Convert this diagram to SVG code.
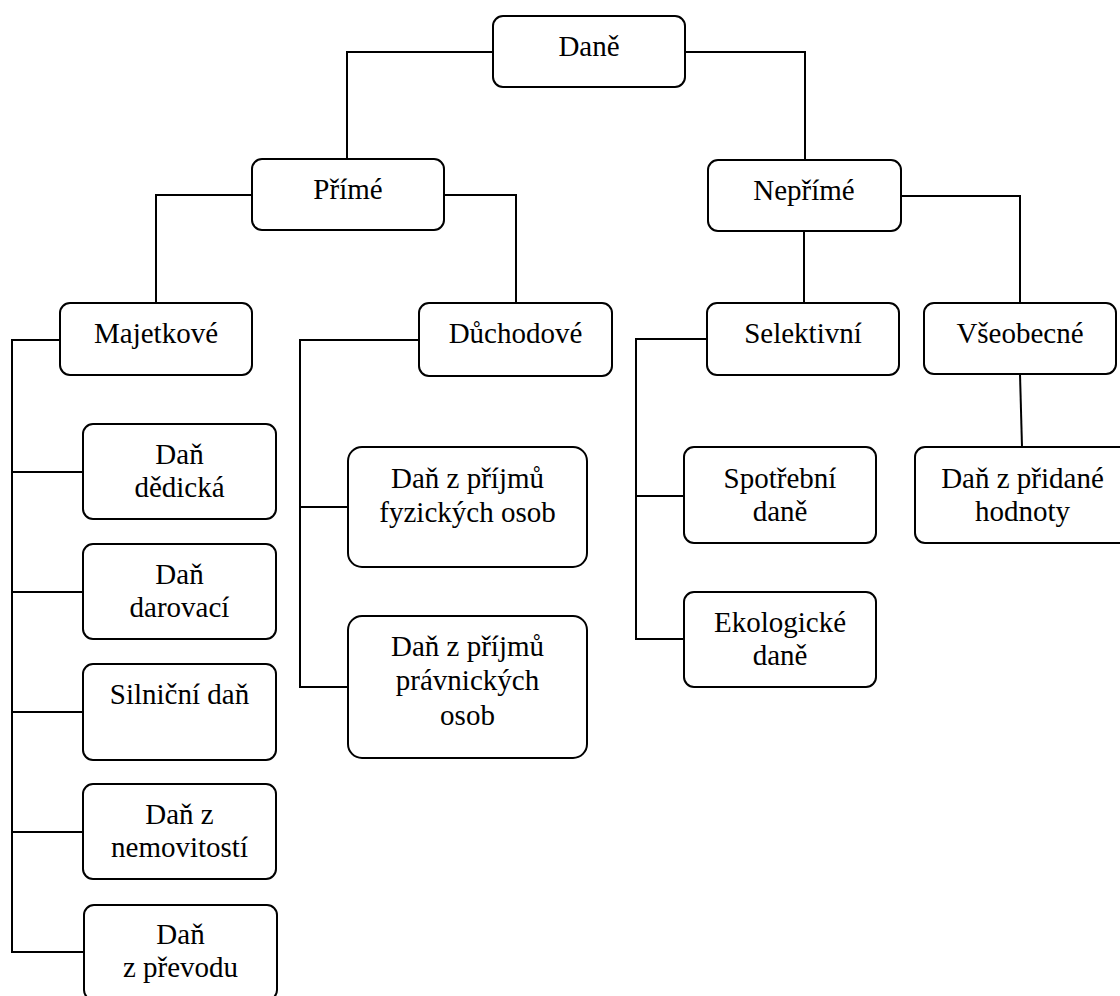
<svg xmlns="http://www.w3.org/2000/svg" width="1120" height="996" viewBox="0 0 1120 996">
<defs>
<style>
.box{fill:#fff;stroke:#000;stroke-width:2}
.t{font-family:'Liberation Serif','Times New Roman',serif;font-size:29px;fill:#000;text-anchor:middle}
</style>
</defs>
<rect width="1120" height="996" fill="#fff"/>
<g id="connectors" fill="none" stroke="#000" stroke-width="2">
<polyline points="493,52 347,52 347,159"/>
<polyline points="685,52 805,52 805,160"/>
<polyline points="252,195 156,195 156,303"/>
<polyline points="444,195 516,195 516,303"/>
<polyline points="804,231 804,303"/>
<polyline points="901,196 1020,196 1020,303"/>
<polyline points="60,340 12,340 12,952 83,952"/>
<line x1="12" y1="472" x2="83" y2="472"/>
<line x1="12" y1="592" x2="83" y2="592"/>
<line x1="12" y1="712" x2="83" y2="712"/>
<line x1="12" y1="832" x2="83" y2="832"/>
<polyline points="419,340 300,340 300,687 348,687"/>
<line x1="300" y1="507" x2="348" y2="507"/>
<polyline points="708,339 636,339 636,639 684,639"/>
<line x1="636" y1="496" x2="684" y2="496"/>
<line x1="1020" y1="374" x2="1022" y2="447"/>
</g>
<g id="dane"><rect class="box" x="493" y="16" width="192" height="71" rx="10"/><text class="t" x="589" y="56" font-family="'Liberation Serif'">Daně</text></g>
<g id="prime"><rect class="box" x="252" y="159" width="192" height="71" rx="10"/><text class="t" x="348" y="199" font-family="'Liberation Serif'">Přímé</text></g>
<g id="neprime"><rect class="box" x="708" y="160" width="193" height="71" rx="10"/><text class="t" x="804" y="200" font-family="'Liberation Serif'">Nepřímé</text></g>
<g id="majetkove"><rect class="box" x="60" y="303" width="192" height="72" rx="10"/><text class="t" x="156" y="343" font-family="'Liberation Serif'">Majetkové</text></g>
<g id="duchodove"><rect class="box" x="419" y="303" width="193" height="73" rx="10"/><text class="t" x="515.5" y="343" font-family="'Liberation Serif'">Důchodové</text></g>
<g id="selektivni"><rect class="box" x="707" y="303" width="192" height="72" rx="10"/><text class="t" x="803" y="343" font-family="'Liberation Serif'">Selektivní</text></g>
<g id="vseobecne"><rect class="box" x="924" y="303" width="192" height="71" rx="10"/><text class="t" x="1020" y="343" font-family="'Liberation Serif'">Všeobecné</text></g>
<g id="dedicka"><rect class="box" x="83" y="424" width="193" height="95" rx="10"/><text class="t" x="179.5" y="464" font-family="'Liberation Serif'">Daň</text><text class="t" x="179.5" y="497" font-family="'Liberation Serif'">dědická</text></g>
<g id="darovaci"><rect class="box" x="83" y="544" width="193" height="95" rx="10"/><text class="t" x="179.5" y="584" font-family="'Liberation Serif'">Daň</text><text class="t" x="179.5" y="617" font-family="'Liberation Serif'">darovací</text></g>
<g id="silnicni"><rect class="box" x="83" y="664" width="193" height="96" rx="10"/><text class="t" x="179.5" y="704" font-family="'Liberation Serif'">Silniční daň</text></g>
<g id="nemovitosti"><rect class="box" x="83" y="784" width="193" height="95" rx="10"/><text class="t" x="179.5" y="824" font-family="'Liberation Serif'">Daň z</text><text class="t" x="179.5" y="857" font-family="'Liberation Serif'">nemovitostí</text></g>
<g id="prevodu"><rect class="box" x="84" y="905" width="193" height="95" rx="10"/><text class="t" x="180.5" y="944" font-family="'Liberation Serif'">Daň</text><text class="t" x="180.5" y="977" font-family="'Liberation Serif'">z převodu</text></g>
<g id="fyzicke"><rect class="box" x="348" y="447" width="239" height="120" rx="14"/><text class="t" x="467.5" y="488" font-family="'Liberation Serif'">Daň z příjmů</text><text class="t" x="467.5" y="522" font-family="'Liberation Serif'">fyzických osob</text></g>
<g id="pravnicke"><rect class="box" x="348" y="616" width="239" height="142" rx="14"/><text class="t" x="467.5" y="656" font-family="'Liberation Serif'">Daň z příjmů</text><text class="t" x="467.5" y="690" font-family="'Liberation Serif'">právnických</text><text class="t" x="467.5" y="725" font-family="'Liberation Serif'">osob</text></g>
<g id="spotrebni"><rect class="box" x="684" y="447" width="192" height="96" rx="10"/><text class="t" x="780" y="488" font-family="'Liberation Serif'">Spotřební</text><text class="t" x="780" y="521" font-family="'Liberation Serif'">daně</text></g>
<g id="ekologicke"><rect class="box" x="684" y="592" width="192" height="95" rx="10"/><text class="t" x="780" y="632" font-family="'Liberation Serif'">Ekologické</text><text class="t" x="780" y="665" font-family="'Liberation Serif'">daně</text></g>
<g id="dph"><rect class="box" x="915" y="447" width="215" height="96" rx="10"/><text class="t" x="1022.5" y="488" font-family="'Liberation Serif'">Daň z přidané</text><text class="t" x="1022.5" y="521" font-family="'Liberation Serif'">hodnoty</text></g>
</svg>
